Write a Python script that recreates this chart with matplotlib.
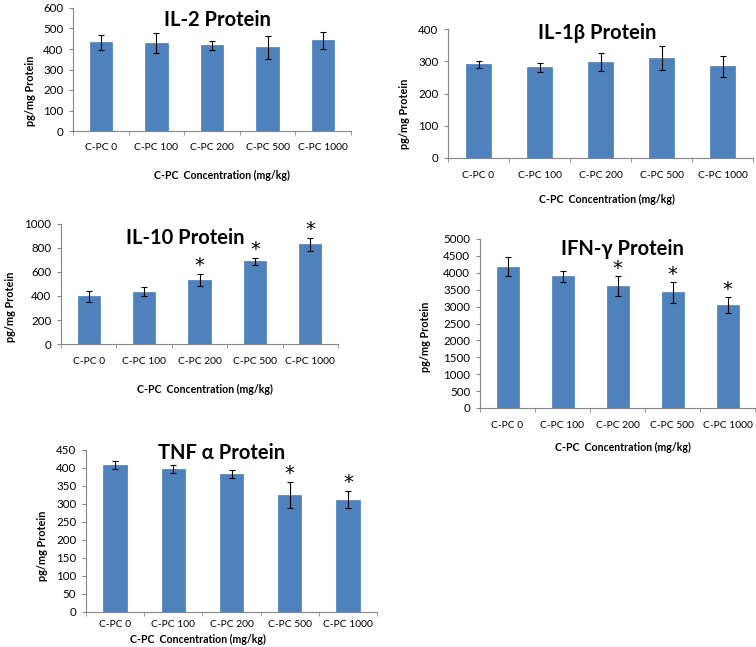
import matplotlib.pyplot as plt
import numpy as np

plt.rcParams['font.family'] = ['Lato', 'DejaVu Sans']

groups = ["C-PC 0", "C-PC 100", "C-PC 200", "C-PC 500", "C-PC 1000"]

il2_mean = [432, 428, 418, 408, 442]
il2_err = [37, 48, 21, 56, 40]

il1b_mean = [290, 281, 298, 311, 284]
il1b_err = [12, 13, 28, 37, 33]

il10_mean = [397, 436, 536, 689, 833]
il10_err = [46, 39, 49, 29, 54]
il10_sig = [0, 0, 1, 1, 1]

ifng_mean = [4181, 3905, 3599, 3422, 3037]
ifng_err = [286, 163, 296, 301, 237]
ifng_sig = [0, 0, 1, 1, 1]

tnf_mean = [408, 397, 383, 325, 312]
tnf_err = [12, 10, 12, 37, 24]
tnf_sig = [0, 0, 0, 1, 1]

W, H = 756, 647
BLUE = '#4F81BD'
GREY = '#868686'

fig = plt.figure(figsize=(W / 100, H / 100), dpi=100)


def px_axes(left, right, top, bottom):
    return fig.add_axes([left / W, 1 - bottom / H, (right - left) / W, (bottom - top) / H])


def ftext(x, y, s, **kw):
    fig.text(x / W, 1 - y / H, s, ha='center', va='center', **kw)


def panel(box, mean, err, ymax, step, title, tpos, xlpos, ylpos, sig=None, xpad=9):
    ax = px_axes(*box)
    x = np.arange(len(groups))
    ax.bar(x, mean, width=0.4, color=BLUE, edgecolor='#4A7EBB', linewidth=0.5, zorder=2)
    ax.errorbar(x, mean, yerr=err, fmt='none', ecolor='black', elinewidth=0.8,
                capsize=2.5, capthick=0.8, zorder=3)
    if sig is not None:
        for i in range(len(groups)):
            if sig[i]:
                ax.annotate('*', (x[i], mean[i] + err[i]), xytext=(0, -1),
                            textcoords='offset points', ha='center', va='bottom',
                            fontsize=14, family='DejaVu Sans')
    ax.set_xlim(-0.5, len(groups) - 0.5)
    ax.set_ylim(0, ymax)
    ax.set_yticks(np.arange(0, ymax + 1, step))
    ax.set_xticks(x)
    ax.set_xticklabels(groups)
    ax.set_xticks(np.arange(-0.5, len(groups), 1), minor=True)
    ax.tick_params(axis='x', which='major', length=0, pad=xpad, labelsize=7.4)
    ax.tick_params(axis='x', which='minor', length=3, color=GREY, direction='out')
    ax.tick_params(axis='y', length=3, color=GREY, labelsize=8.3, pad=4)
    for s in ['top', 'right']:
        ax.spines[s].set_visible(False)
    for s in ['left', 'bottom']:
        ax.spines[s].set_color(GREY)
        ax.spines[s].set_linewidth(0.8)
    ax.patch.set_alpha(0)
    ftext(*tpos, title, fontsize=14.5, fontweight='bold')
    ftext(*xlpos, 'C-PC  Concentration (mg/kg)', fontsize=7.6, fontweight='bold')
    ftext(*ylpos, 'pg/mg Protein', fontsize=7.8, fontweight='bold', rotation=90)
    return ax


panel((73, 351, 8, 131), il2_mean, il2_err, 600, 100, 'IL-2 Protein',
      (217, 20), (222, 175), (31, 91))
panel((448, 753, 29, 158), il1b_mean, il1b_err, 400, 100, 'IL-1β Protein',
      (597, 33), (607, 199), (405, 114))
panel((61, 338, 224, 344), il10_mean, il10_err, 1000, 200, 'IL-10 Protein',
      (185, 238), (205, 389), (11, 307), il10_sig)
panel((480, 755, 239, 408), ifng_mean, ifng_err, 5000, 500, 'IFN-γ Protein',
      (622, 249), (623, 447), (425, 337), ifng_sig)
panel((86, 377, 450, 612), tnf_mean, tnf_err, 450, 50, 'TNF α Protein',
      (222, 453), (198, 639), (43, 546), tnf_sig, xpad=6)

plt.savefig('out.png', dpi=100)
